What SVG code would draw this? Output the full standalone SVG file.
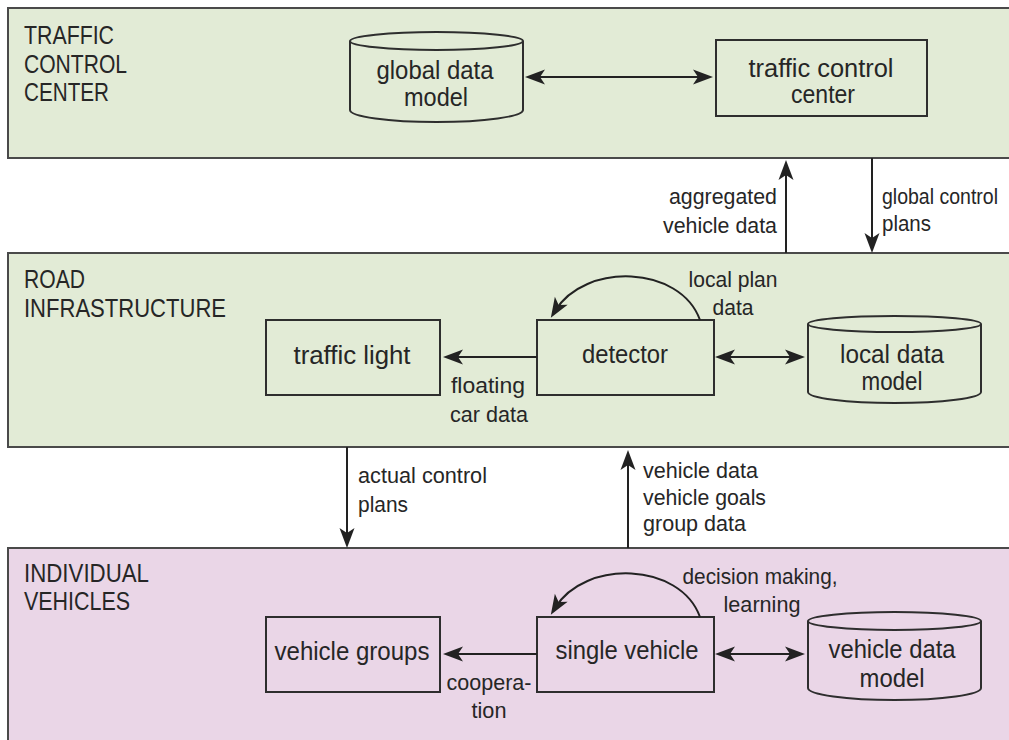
<svg xmlns="http://www.w3.org/2000/svg" width="1009" height="740" viewBox="0 0 1009 740">
  <style>
    .panel { stroke: #4a4a4a; stroke-width: 2; }
    .tcc { fill: #e2ebd6; }
    .road { fill: #e2ebd6; }
    .veh { fill: #ead6e7; }
    .node { fill: none; stroke: #2e2e2e; stroke-width: 2; }
    .edge { fill: none; stroke: #222; stroke-width: 2; }
    text { font-family: "Liberation Sans", Arial, sans-serif; fill: #262626; }
    .pl { font-size: 26px; }
    .nl { font-size: 25px; text-anchor: middle; }
    .el { font-size: 22px; }
    .mid { text-anchor: middle; }
    .end { text-anchor: end; }
  </style>
  <defs>
    <marker id="ah" markerUnits="userSpaceOnUse" markerWidth="22" markerHeight="16" refX="12" refY="8" orient="auto-start-reverse" overflow="visible">
      <path d="M0,0.5 L20,8 L0,15.5 L5,8 Z" fill="#222"/>
    </marker>
  </defs>

  <!-- layer bands -->
  <g id="layer-tcc">
    <rect class="panel tcc" x="8" y="8" width="1012" height="150"/>
    <text class="pl" x="24" y="44" textLength="90" lengthAdjust="spacingAndGlyphs">TRAFFIC</text>
    <text class="pl" x="24" y="73" textLength="103" lengthAdjust="spacingAndGlyphs">CONTROL</text>
    <text class="pl" x="24" y="101" textLength="85" lengthAdjust="spacingAndGlyphs">CENTER</text>
  </g>
  <g id="layer-road">
    <rect class="panel road" x="8" y="253" width="1012" height="194"/>
    <text class="pl" x="24" y="288" textLength="61" lengthAdjust="spacingAndGlyphs">ROAD</text>
    <text class="pl" x="24" y="317" textLength="202" lengthAdjust="spacingAndGlyphs">INFRASTRUCTURE</text>
  </g>
  <g id="layer-vehicles">
    <rect class="panel veh" x="8" y="548" width="1012" height="200"/>
    <text class="pl" x="24" y="582" textLength="125" lengthAdjust="spacingAndGlyphs">INDIVIDUAL</text>
    <text class="pl" x="24" y="610" textLength="106" lengthAdjust="spacingAndGlyphs">VEHICLES</text>
  </g>

  <!-- nodes -->
  <g id="global-data-model">
    <path class="node" d="M350,41 L350,110 A86.5,12 0 0 0 523,110 L523,41"/>
    <ellipse class="node" cx="436.5" cy="41" rx="86.5" ry="9"/>
    <text class="nl" x="435" y="79" textLength="117" lengthAdjust="spacingAndGlyphs">global data</text>
    <text class="nl" x="436" y="106" textLength="64" lengthAdjust="spacingAndGlyphs">model</text>
  </g>
  <g id="traffic-control-center">
    <rect class="node" x="716" y="40" width="211" height="76"/>
    <text class="nl" x="821" y="77" textLength="145" lengthAdjust="spacingAndGlyphs">traffic control</text>
    <text class="nl" x="823" y="103" textLength="64" lengthAdjust="spacingAndGlyphs">center</text>
  </g>
  <g id="traffic-light">
    <rect class="node" x="266" y="320" width="174" height="75"/>
    <text class="nl" x="352" y="364" textLength="117" lengthAdjust="spacingAndGlyphs">traffic light</text>
  </g>
  <g id="detector">
    <rect class="node" x="537" y="320" width="177" height="75"/>
    <text class="nl" x="625" y="363" textLength="86" lengthAdjust="spacingAndGlyphs">detector</text>
  </g>
  <g id="local-data-model">
    <path class="node" d="M808,324 L808,392 A86.5,11 0 0 0 981,392 L981,324"/>
    <ellipse class="node" cx="894.5" cy="324" rx="86.5" ry="8"/>
    <text class="nl" x="892" y="363" textLength="104" lengthAdjust="spacingAndGlyphs">local data</text>
    <text class="nl" x="892" y="390" textLength="61" lengthAdjust="spacingAndGlyphs">model</text>
  </g>
  <g id="vehicle-groups">
    <rect class="node" x="266" y="617" width="174" height="75"/>
    <text class="nl" x="352" y="660" textLength="155" lengthAdjust="spacingAndGlyphs">vehicle groups</text>
  </g>
  <g id="single-vehicle">
    <rect class="node" x="537" y="617" width="177" height="75"/>
    <text class="nl" x="627" y="659" textLength="143" lengthAdjust="spacingAndGlyphs">single vehicle</text>
  </g>
  <g id="vehicle-data-model">
    <path class="node" d="M808,621 L808,688 A86.5,12 0 0 0 981,688 L981,621"/>
    <ellipse class="node" cx="894.5" cy="621" rx="86.5" ry="9"/>
    <text class="nl" x="892" y="658" textLength="127" lengthAdjust="spacingAndGlyphs">vehicle data</text>
    <text class="nl" x="892" y="687" textLength="65" lengthAdjust="spacingAndGlyphs">model</text>
  </g>

  <!-- connectors -->
  <g id="connectors">
    <line class="edge" x1="533" y1="77" x2="705" y2="77" marker-start="url(#ah)" marker-end="url(#ah)"/>
    <line class="edge" x1="786" y1="253" x2="786" y2="168" marker-end="url(#ah)"/>
    <line class="edge" x1="872" y1="158" x2="872" y2="245" marker-end="url(#ah)"/>
    <path class="edge" d="M700,320 C680,265 585,262 555,311" marker-end="url(#ah)"/>
    <line class="edge" x1="537" y1="357" x2="451" y2="357" marker-end="url(#ah)"/>
    <line class="edge" x1="723" y1="357" x2="797" y2="357" marker-start="url(#ah)" marker-end="url(#ah)"/>
    <line class="edge" x1="347" y1="447" x2="347" y2="540" marker-end="url(#ah)"/>
    <line class="edge" x1="628" y1="548" x2="628" y2="458" marker-end="url(#ah)"/>
    <path class="edge" d="M700,617 C680,562 585,559 555,608" marker-end="url(#ah)"/>
    <line class="edge" x1="537" y1="654" x2="451" y2="654" marker-end="url(#ah)"/>
    <line class="edge" x1="723" y1="654" x2="797" y2="654" marker-start="url(#ah)" marker-end="url(#ah)"/>

    <!-- connector labels -->
    <text class="el end" x="777" y="204" textLength="108" lengthAdjust="spacingAndGlyphs">aggregated</text>
    <text class="el end" x="777" y="233" textLength="114" lengthAdjust="spacingAndGlyphs">vehicle data</text>
    <text class="el" x="882" y="204" textLength="116" lengthAdjust="spacingAndGlyphs">global control</text>
    <text class="el" x="882" y="231" textLength="49" lengthAdjust="spacingAndGlyphs">plans</text>
    <text class="el mid" x="733" y="287" textLength="89" lengthAdjust="spacingAndGlyphs">local plan</text>
    <text class="el mid" x="733" y="315" textLength="41" lengthAdjust="spacingAndGlyphs">data</text>
    <text class="el mid" x="488" y="393" textLength="74" lengthAdjust="spacingAndGlyphs">floating</text>
    <text class="el mid" x="489" y="422" textLength="78" lengthAdjust="spacingAndGlyphs">car data</text>
    <text class="el" x="358" y="483" textLength="129" lengthAdjust="spacingAndGlyphs">actual control</text>
    <text class="el" x="358" y="512" textLength="50" lengthAdjust="spacingAndGlyphs">plans</text>
    <text class="el" x="643" y="478" textLength="115" lengthAdjust="spacingAndGlyphs">vehicle data</text>
    <text class="el" x="643" y="505" textLength="123" lengthAdjust="spacingAndGlyphs">vehicle goals</text>
    <text class="el" x="643" y="531" textLength="103" lengthAdjust="spacingAndGlyphs">group data</text>
    <text class="el mid" x="760" y="584" textLength="155" lengthAdjust="spacingAndGlyphs">decision making,</text>
    <text class="el mid" x="762" y="612" textLength="77" lengthAdjust="spacingAndGlyphs">learning</text>
    <text class="el mid" x="489" y="690" textLength="85" lengthAdjust="spacingAndGlyphs">coopera-</text>
    <text class="el mid" x="489" y="718" textLength="35" lengthAdjust="spacingAndGlyphs">tion</text>
  </g>
</svg>
